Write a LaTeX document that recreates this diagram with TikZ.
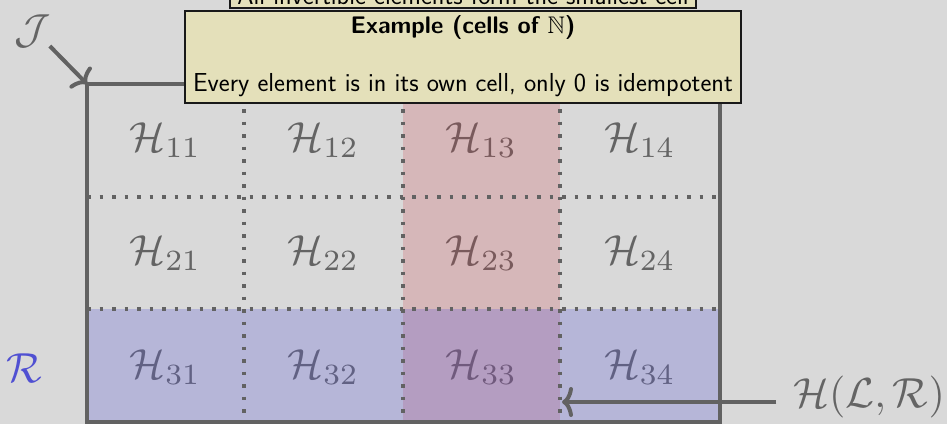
\documentclass[tikz,border=0pt]{standalone}
\usepackage{amssymb}
\usetikzlibrary{arrows.meta}
\definecolor{bgc}{RGB}{217,217,217}
\definecolor{gridc}{RGB}{98,98,98}
\definecolor{labc}{RGB}{100,100,100}
\definecolor{colred}{RGB}{205,50,60}
\definecolor{rowblue}{RGB}{90,90,215}
\definecolor{rlab}{RGB}{80,80,210}
\definecolor{notec}{RGB}{228,224,186}
\begin{document}
\begin{tikzpicture}[x=1pt,y=-1pt,
  hlab/.style={text=labc, scale=4.2, inner sep=0pt},
  frame/.style={draw=gridc, line width=4pt},
  dots/.style={draw=gridc, line width=3.5pt, dash pattern=on 3.5pt off 9pt},
  arr/.style={draw=gridc, line width=4pt, -{Computer Modern Rightarrow[length=11pt,width=30pt]}},
  notebox/.style={draw=black!90, line width=1.2pt, fill=notec, inner sep=0pt},
  notetext/.style={font=\sffamily\fontsize{26}{31}\selectfont, inner sep=0pt},
  notetitle/.style={font=\sffamily\bfseries\fontsize{24}{29}\selectfont, inner sep=0pt}]
\fill[bgc] (0,0) rectangle (947,424);
\useasboundingbox (0,0) rectangle (947,424);
\clip (0,0) rectangle (947,424);
% cell labels
\node[hlab] (h11) at (165.5,140) {$\mathcal{H}_{11}$};
\node[hlab] (h12) at (323.5,140) {$\mathcal{H}_{12}$};
\node[hlab] (h13) at (481.5,140) {$\mathcal{H}_{13}$};
\node[hlab] (h14) at (640,140) {$\mathcal{H}_{14}$};
\node[hlab] (h21) at (165.5,253) {$\mathcal{H}_{21}$};
\node[hlab] (h22) at (323.5,253) {$\mathcal{H}_{22}$};
\node[hlab] (h23) at (481.5,253) {$\mathcal{H}_{23}$};
\node[hlab] (h24) at (640,253) {$\mathcal{H}_{24}$};
\node[hlab] (h31) at (165.5,367) {$\mathcal{H}_{31}$};
\node[hlab] (h32) at (323.5,367) {$\mathcal{H}_{32}$};
\node[hlab] (h33) at (481.5,367) {$\mathcal{H}_{33}$};
\node[hlab] (h34) at (640,367) {$\mathcal{H}_{34}$};
% overlays
\fill[colred, opacity=0.2] (403,84) rectangle (560,422);
\fill[rowblue, opacity=0.27] (87,309) rectangle (720,422);
% dotted grid
\draw[dots] (244,84) -- (244,422);
\draw[dots] (403,84) -- (403,422);
\draw[dots] (560,84) -- (560,422);
\draw[dots] (87,197) -- (720,197);
\draw[dots] (87,309) -- (720,309);
% frame
\draw[frame] (87,84) rectangle (720,422);
% outer labels and arrows
\node[hlab] (J) at (33,31) {$\mathcal{J}$};
\coordinate (tl) at (87,84);
\draw[arr, shorten <=-3pt] (J.south east) -- (tl);
\node[hlab, text=rlab] (R) at (24,368) {$\mathcal{R}$};
\node[hlab] (HLR) at (869,397) {$\mathcal{H}(\mathcal{L},\mathcal{R})$};
\coordinate (hr) at (562,402);
\draw[arr, shorten <=16pt] (HLR.west |- hr) -- (hr);
% notes
\node[notebox, minimum width=466pt, minimum height=30pt] (top) at (463,-7) {};
\node[notetext] (topt) at (463,-5) {All invertible elements form the smallest cell};
\node[notebox, minimum width=556pt, minimum height=92pt] (ex) at (463,57) {};
\node[notetitle] (ext) at (463,27) {Example (cells of $\mathbb{N}$)};
\node[notetext] (exb) at (463,85) {Every element is in its own cell, only 0 is idempotent};
\end{tikzpicture}
\end{document}
